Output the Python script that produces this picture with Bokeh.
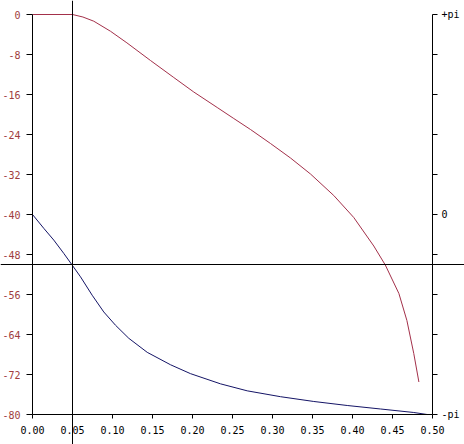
import math
from bokeh.plotting import figure
from bokeh.models import (Range1d, LinearAxis, FixedTicker, PrintfTickFormatter,
                          CustomJSTickFormatter, Span)
from bokeh.embed import file_html
from bokeh.resources import INLINE

# Normalised frequency (cycles/sample) and magnitude response (dB)
mag_freq = [0.0, 0.05, 0.063, 0.0766, 0.0975, 0.118, 0.1475, 0.1766, 0.2016,
            0.2309, 0.2516, 0.2725, 0.2975, 0.3225, 0.3475, 0.3766, 0.4016,
            0.4266, 0.441, 0.458, 0.468, 0.4766, 0.483]
mag_db = [0.0, 0.0, -0.5, -1.34, -3.35, -5.67, -9.2, -12.6, -15.5,
          -18.6, -20.8, -23.0, -25.8, -28.7, -31.9, -36.2, -40.6,
          -46.3, -50.1, -55.8, -61.2, -67.8, -73.5]

# Phase response (radians)
ph_freq = [0.0, 0.0141, 0.0266, 0.0391, 0.0496, 0.06, 0.0746, 0.0891, 0.1038,
           0.1204, 0.1434, 0.1725, 0.1975, 0.235, 0.2684, 0.31, 0.3516,
           0.3934, 0.435, 0.4766, 0.4934]
ph_rad = [0.0, -0.217, -0.402, -0.611, -0.795, -0.979, -1.268, -1.531, -1.740,
          -1.945, -2.165, -2.36, -2.50, -2.66, -2.77, -2.862, -2.937,
          -3.000, -3.055, -3.110, -3.142]

# Cursor (crosshair) position
cursor_freq = 0.05
cursor_db = -50.0

x_ticks = [0.0, 0.05, 0.10, 0.15, 0.20, 0.25, 0.30, 0.35, 0.40, 0.45, 0.50]
db_ticks = [0, -8, -16, -24, -32, -40, -48, -56, -64, -72, -80]
phase_ticks = [k * math.pi / 5 for k in range(-5, 6)]

FONT = "DejaVu Sans Mono"
RED = "#a3304a"
LABEL_RED = "#a03c3c"
BLUE = "#141466"

W, H = 464, 444
# plot area inside the canvas (pixels): left 32, right 432, top 14, bottom 414
LEFT, RIGHT, TOP, BOTTOM = 32, 432, 14, 414
fpx = 0.5 / (RIGHT - LEFT)            # frequency per pixel
dpx = 80.0 / (BOTTOM - TOP)           # dB per pixel
ppx = 2 * math.pi / (BOTTOM - TOP)    # radians per pixel

p = figure(width=W, height=H, output_backend="svg", toolbar_location=None,
           x_axis_type=None, y_axis_type=None,
           x_range=Range1d(0 - LEFT * fpx, 0.5 + (W - RIGHT) * fpx),
           y_range=Range1d(-80 - (H - BOTTOM) * dpx, 0 + TOP * dpx),
           min_border=0)
p.extra_y_ranges = {"phase": Range1d(-math.pi - (H - BOTTOM) * ppx,
                                     math.pi + TOP * ppx)}
p.grid.visible = False
p.outline_line_color = None
p.background_fill_color = "white"
p.border_fill_color = "white"

p.line(mag_freq, mag_db, line_color=RED, line_width=1)
p.line(ph_freq, ph_rad, line_color=BLUE, line_width=1, y_range_name="phase")

p.add_layout(Span(location=cursor_db, dimension="width",
                  line_color="black", line_width=1))
p.add_layout(Span(location=cursor_freq, dimension="height",
                  line_color="black", line_width=1))

xa = LinearAxis(fixed_location=-80, bounds=(0, 0.5),
                ticker=FixedTicker(ticks=x_ticks),
                formatter=PrintfTickFormatter(format="%.2f"))
xa.major_tick_in = 0
xa.major_tick_out = 4
xa.minor_tick_line_color = None
xa.major_label_text_font = FONT
xa.major_label_text_font_size = "10px"
xa.major_label_text_color = "black"
xa.major_label_standoff = 7
p.add_layout(xa, "below")

ya = LinearAxis(fixed_location=0, bounds=(-80, 0),
                ticker=FixedTicker(ticks=db_ticks),
                formatter=PrintfTickFormatter(format="%d"))
ya.major_tick_in = 0
ya.major_tick_out = 6
ya.minor_tick_line_color = None
ya.major_label_text_font = FONT
ya.major_label_text_font_size = "10px"
ya.major_label_text_color = LABEL_RED
ya.major_label_standoff = 6
p.add_layout(ya, "left")

ra = LinearAxis(y_range_name="phase", fixed_location=0.5,
                bounds=(-math.pi, math.pi),
                ticker=FixedTicker(ticks=phase_ticks))
ra.formatter = CustomJSTickFormatter(code="""
if (Math.abs(tick - Math.PI) < 1e-6) return "+pi";
if (Math.abs(tick + Math.PI) < 1e-6) return "-pi";
if (Math.abs(tick) < 1e-6) return "0";
return "";
""")
ra.major_tick_in = 0
ra.major_tick_out = 5
ra.minor_tick_line_color = None
ra.major_label_text_font = FONT
ra.major_label_text_font_size = "10px"
ra.major_label_text_color = "black"
ra.major_label_standoff = 4
p.add_layout(ra, "right")

open("out.html", "w").write(file_html(p, INLINE))
